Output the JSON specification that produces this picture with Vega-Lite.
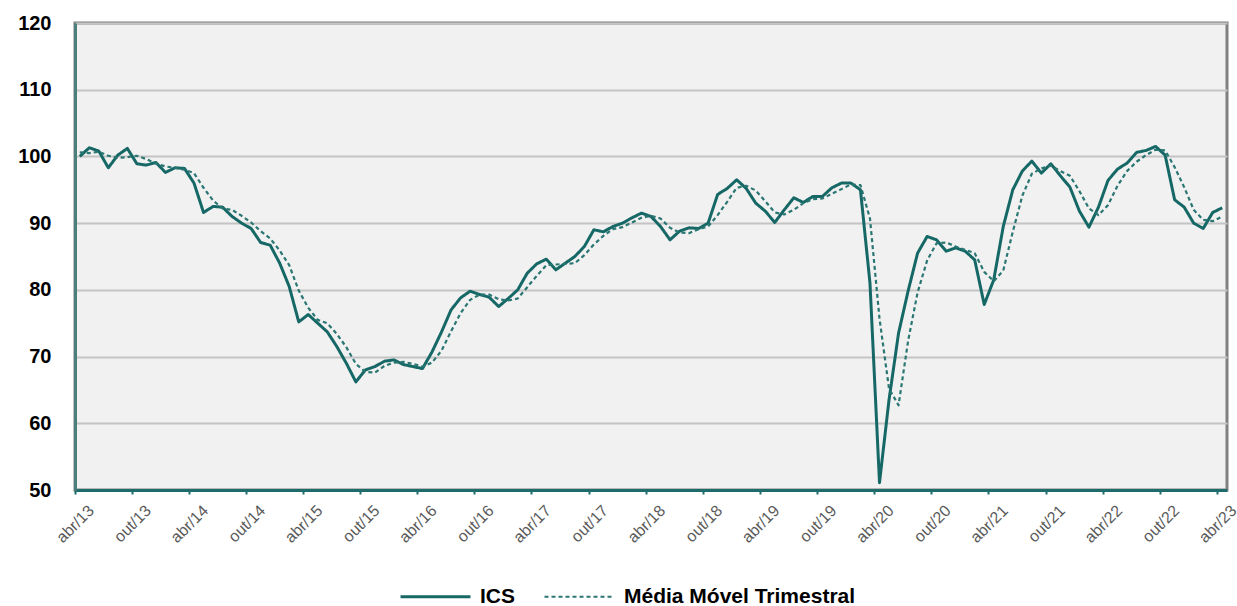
{
  "$schema": "https://vega.github.io/schema/vega-lite/v6.json",
  "width": 1152,
  "height": 467,
  "autosize": "none",
  "padding": {"left": 75, "top": 23, "right": 10, "bottom": 116},
  "background": "#ffffff",
  "config": {
    "font": "Liberation Sans",
    "view": {"fill": "#f1f1f1", "stroke": "#808080", "strokeWidth": 3}
  },
  "data": {"values": [
    {"mes":"abr/13","ICS":100.0,"MM":100.6},
    {"mes":"mai/13","ICS":101.3,"MM":100.5},
    {"mes":"jun/13","ICS":100.8,"MM":100.7},
    {"mes":"jul/13","ICS":98.3,"MM":100.1},
    {"mes":"ago/13","ICS":100.2,"MM":99.8},
    {"mes":"set/13","ICS":101.2,"MM":99.9},
    {"mes":"out/13","ICS":98.9,"MM":100.1},
    {"mes":"nov/13","ICS":98.7,"MM":99.6},
    {"mes":"dez/13","ICS":99.1,"MM":98.9},
    {"mes":"jan/14","ICS":97.6,"MM":98.5},
    {"mes":"fev/14","ICS":98.3,"MM":98.3},
    {"mes":"mar/14","ICS":98.2,"MM":98.0},
    {"mes":"abr/14","ICS":96.0,"MM":97.5},
    {"mes":"mai/14","ICS":91.6,"MM":95.3},
    {"mes":"jun/14","ICS":92.5,"MM":93.4},
    {"mes":"jul/14","ICS":92.4,"MM":92.2},
    {"mes":"ago/14","ICS":91.0,"MM":92.0},
    {"mes":"set/14","ICS":90.0,"MM":91.1},
    {"mes":"out/14","ICS":89.2,"MM":90.1},
    {"mes":"nov/14","ICS":87.1,"MM":88.8},
    {"mes":"dez/14","ICS":86.7,"MM":87.7},
    {"mes":"jan/15","ICS":84.0,"MM":85.9},
    {"mes":"fev/15","ICS":80.5,"MM":83.7},
    {"mes":"mar/15","ICS":75.2,"MM":79.9},
    {"mes":"abr/15","ICS":76.3,"MM":77.3},
    {"mes":"mai/15","ICS":75.0,"MM":75.5},
    {"mes":"jun/15","ICS":73.7,"MM":75.0},
    {"mes":"jul/15","ICS":71.5,"MM":73.4},
    {"mes":"ago/15","ICS":69.0,"MM":71.4},
    {"mes":"set/15","ICS":66.2,"MM":68.9},
    {"mes":"out/15","ICS":68.0,"MM":67.7},
    {"mes":"nov/15","ICS":68.5,"MM":67.6},
    {"mes":"dez/15","ICS":69.3,"MM":68.6},
    {"mes":"jan/16","ICS":69.5,"MM":69.1},
    {"mes":"fev/16","ICS":68.8,"MM":69.2},
    {"mes":"mar/16","ICS":68.5,"MM":68.9},
    {"mes":"abr/16","ICS":68.2,"MM":68.5},
    {"mes":"mai/16","ICS":70.7,"MM":69.1},
    {"mes":"jun/16","ICS":73.7,"MM":70.9},
    {"mes":"jul/16","ICS":77.0,"MM":73.8},
    {"mes":"ago/16","ICS":78.8,"MM":76.5},
    {"mes":"set/16","ICS":79.8,"MM":78.5},
    {"mes":"out/16","ICS":79.3,"MM":79.3},
    {"mes":"nov/16","ICS":78.9,"MM":79.3},
    {"mes":"dez/16","ICS":77.5,"MM":78.6},
    {"mes":"jan/17","ICS":78.7,"MM":78.4},
    {"mes":"fev/17","ICS":80.0,"MM":78.7},
    {"mes":"mar/17","ICS":82.5,"MM":80.4},
    {"mes":"abr/17","ICS":83.9,"MM":82.1},
    {"mes":"mai/17","ICS":84.6,"MM":83.7},
    {"mes":"jun/17","ICS":83.0,"MM":83.8},
    {"mes":"jul/17","ICS":84.0,"MM":83.9},
    {"mes":"ago/17","ICS":85.0,"MM":84.0},
    {"mes":"set/17","ICS":86.5,"MM":85.2},
    {"mes":"out/17","ICS":89.0,"MM":86.8},
    {"mes":"nov/17","ICS":88.7,"MM":88.1},
    {"mes":"dez/17","ICS":89.5,"MM":89.1},
    {"mes":"jan/18","ICS":90.0,"MM":89.4},
    {"mes":"fev/18","ICS":90.8,"MM":90.1},
    {"mes":"mar/18","ICS":91.5,"MM":90.8},
    {"mes":"abr/18","ICS":91.0,"MM":91.1},
    {"mes":"mai/18","ICS":89.5,"MM":90.7},
    {"mes":"jun/18","ICS":87.5,"MM":89.3},
    {"mes":"jul/18","ICS":88.8,"MM":88.6},
    {"mes":"ago/18","ICS":89.3,"MM":88.5},
    {"mes":"set/18","ICS":89.2,"MM":89.1},
    {"mes":"out/18","ICS":90.0,"MM":89.5},
    {"mes":"nov/18","ICS":94.3,"MM":91.2},
    {"mes":"dez/18","ICS":95.2,"MM":93.2},
    {"mes":"jan/19","ICS":96.5,"MM":95.3},
    {"mes":"fev/19","ICS":95.2,"MM":95.6},
    {"mes":"mar/19","ICS":93.0,"MM":94.9},
    {"mes":"abr/19","ICS":91.8,"MM":93.3},
    {"mes":"mai/19","ICS":90.1,"MM":91.6},
    {"mes":"jun/19","ICS":92.0,"MM":91.3},
    {"mes":"jul/19","ICS":93.8,"MM":92.0},
    {"mes":"ago/19","ICS":93.1,"MM":93.0},
    {"mes":"set/19","ICS":94.0,"MM":93.6},
    {"mes":"out/19","ICS":94.0,"MM":93.7},
    {"mes":"nov/19","ICS":95.3,"MM":94.4},
    {"mes":"dez/19","ICS":96.0,"MM":95.1},
    {"mes":"jan/20","ICS":96.0,"MM":95.8},
    {"mes":"fev/20","ICS":95.0,"MM":95.7},
    {"mes":"mar/20","ICS":81.0,"MM":90.7},
    {"mes":"abr/20","ICS":51.1,"MM":75.7},
    {"mes":"mai/20","ICS":63.5,"MM":65.2},
    {"mes":"jun/20","ICS":73.5,"MM":62.7},
    {"mes":"jul/20","ICS":79.8,"MM":72.3},
    {"mes":"ago/20","ICS":85.5,"MM":79.6},
    {"mes":"set/20","ICS":88.0,"MM":84.4},
    {"mes":"out/20","ICS":87.5,"MM":87.0},
    {"mes":"nov/20","ICS":85.8,"MM":87.1},
    {"mes":"dez/20","ICS":86.3,"MM":86.5},
    {"mes":"jan/21","ICS":85.8,"MM":86.0},
    {"mes":"fev/21","ICS":84.5,"MM":85.5},
    {"mes":"mar/21","ICS":77.8,"MM":82.7},
    {"mes":"abr/21","ICS":81.5,"MM":81.3},
    {"mes":"mai/21","ICS":89.5,"MM":82.9},
    {"mes":"jun/21","ICS":95.0,"MM":88.7},
    {"mes":"jul/21","ICS":97.8,"MM":94.1},
    {"mes":"ago/21","ICS":99.3,"MM":97.4},
    {"mes":"set/21","ICS":97.5,"MM":98.2},
    {"mes":"out/21","ICS":98.9,"MM":98.6},
    {"mes":"nov/21","ICS":97.1,"MM":97.8},
    {"mes":"dez/21","ICS":95.4,"MM":97.1},
    {"mes":"jan/22","ICS":91.8,"MM":94.8},
    {"mes":"fev/22","ICS":89.4,"MM":92.2},
    {"mes":"mar/22","ICS":92.4,"MM":91.2},
    {"mes":"abr/22","ICS":96.4,"MM":92.7},
    {"mes":"mai/22","ICS":98.1,"MM":95.6},
    {"mes":"jun/22","ICS":99.0,"MM":97.8},
    {"mes":"jul/22","ICS":100.6,"MM":99.2},
    {"mes":"ago/22","ICS":100.9,"MM":100.2},
    {"mes":"set/22","ICS":101.5,"MM":101.0},
    {"mes":"out/22","ICS":100.2,"MM":100.9},
    {"mes":"nov/22","ICS":93.5,"MM":98.4},
    {"mes":"dez/22","ICS":92.4,"MM":95.4},
    {"mes":"jan/23","ICS":90.0,"MM":92.0},
    {"mes":"fev/23","ICS":89.2,"MM":90.5},
    {"mes":"mar/23","ICS":91.6,"MM":90.3},
    {"mes":"abr/23","ICS":92.3,"MM":91.0}
  ]},
  "transform": [
    {"fold": ["ICS", "MM"], "as": ["chave", "valor"]},
    {"lookup": "chave", "from": {"data": {"values": [{"chave": "ICS", "serie": "ICS"}, {"chave": "MM", "serie": "Média Móvel Trimestral"}]}, "key": "chave", "fields": ["serie"]}}
  ],
  "mark": {"type": "line", "strokeJoin": "round"},
  "encoding": {
    "x": {
      "field": "mes", "type": "ordinal", "sort": null, "bandPosition": 0.5,
      "scale": {"type": "band", "paddingInner": 0, "paddingOuter": 0},
      "axis": {
        "title": null,
        "bandPosition": 0,
        "values": ["abr/13","out/13","abr/14","out/14","abr/15","out/15","abr/16","out/16","abr/17","out/17","abr/18","out/18","abr/19","out/19","abr/20","out/20","abr/21","out/21","abr/22","out/22","abr/23"],
        "labelAngle": -45,
        "labelAlign": "right",
        "labelBaseline": "top",
        "labelFontSize": 16,
        "labelColor": "#5a5a5a",
        "labelPadding": 8,
        "labelOffset": 6,
        "labelOverlap": false,
        "labelBound": false,
        "domainColor": "#1d6b6b",
        "domainWidth": 3,
        "tickColor": "#1d6b6b",
        "tickWidth": 2,
        "tickSize": 4,
        "grid": false
      }
    },
    "y": {
      "field": "valor", "type": "quantitative",
      "scale": {"domain": [50, 120], "zero": false, "nice": false},
      "axis": {
        "title": null,
        "values": [50, 60, 70, 80, 90, 100, 110, 120],
        "ticks": false,
        "labelFontSize": 20,
        "labelFontWeight": "bold",
        "labelColor": "#000000",
        "labelPadding": 24,
        "domainColor": "#4a7f7c",
        "domainWidth": 3,
        "gridColor": "#c4c4c4",
        "gridWidth": 2
      }
    },
    "color": {
      "field": "serie", "type": "nominal",
      "scale": {"domain": ["ICS", "Média Móvel Trimestral"], "range": ["#166866", "#2a7673"]},
      "legend": {
        "title": null,
        "orient": "none",
        "legendX": 324,
        "legendY": 537,
        "direction": "horizontal",
        "symbolType": "stroke",
        "symbolSize": 4900,
        "symbolStrokeWidth": 3,
        "labelFontSize": 21,
        "labelFontWeight": "bold",
        "labelColor": "#000000",
        "labelOffset": 8,
        "labelLimit": 500,
        "columnPadding": 24
      }
    },
    "strokeDash": {
      "field": "serie", "type": "nominal",
      "scale": {"domain": ["ICS", "Média Móvel Trimestral"], "range": [[1, 0], [4, 3]]},
      "legend": {
        "title": null,
        "orient": "none",
        "legendX": 324,
        "legendY": 537,
        "direction": "horizontal",
        "symbolType": "stroke",
        "symbolSize": 4900,
        "symbolStrokeWidth": 3,
        "labelFontSize": 21,
        "labelFontWeight": "bold",
        "labelColor": "#000000",
        "labelOffset": 8,
        "labelLimit": 500,
        "columnPadding": 24
      }
    },
    "strokeWidth": {
      "field": "serie", "type": "nominal",
      "scale": {"domain": ["ICS", "Média Móvel Trimestral"], "range": [3, 2.2]},
      "legend": null
    }
  }
}
